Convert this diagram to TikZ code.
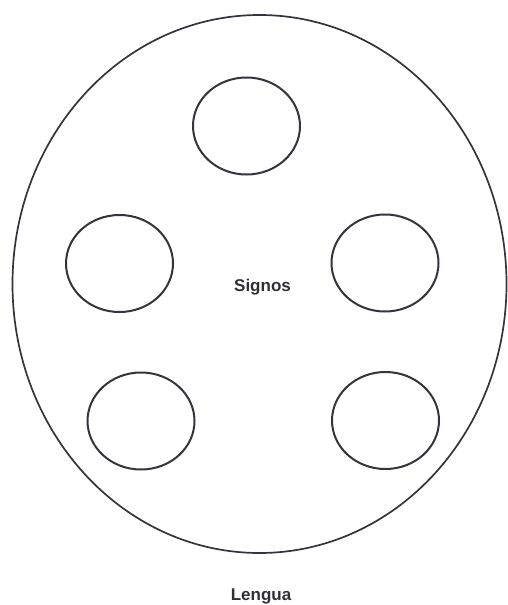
\documentclass[tikz,border=0pt]{standalone}
\usepackage{fontspec}
\setmainfont{Liberation Sans}
\usepackage{tikz}
\usetikzlibrary{shapes.geometric}
\definecolor{Outline}{HTML}{34343F}

\begin{document}
\begin{tikzpicture}[x=1pt, y=-1pt,
  every node/.style={font=\bfseries\fontsize{17}{20}\selectfont, text=Outline!90!black},
  sign/.style={ellipse, draw=Outline, line width=2pt, minimum width=107pt, minimum height=97pt, inner sep=0pt}]
  \useasboundingbox (0,0) rectangle (508,605);
  \node[ellipse, draw=Outline, line width=1.7pt, minimum width=494pt, minimum height=538pt] (lengua) at (259.5,284) {};
  \node[sign] (s1) at (246.5,126) {};
  \node[sign] (s2) at (119.5,263.5) {};
  \node[sign] (s3) at (385,263) {};
  \node[sign] (s4) at (141,421) {};
  \node[sign] (s5) at (385.5,420.5) {};
  \node (signos) at (262.5,287) {Signos};
  \node (lenguatxt) at (261,596) {Lengua};
\end{tikzpicture}
\end{document}
